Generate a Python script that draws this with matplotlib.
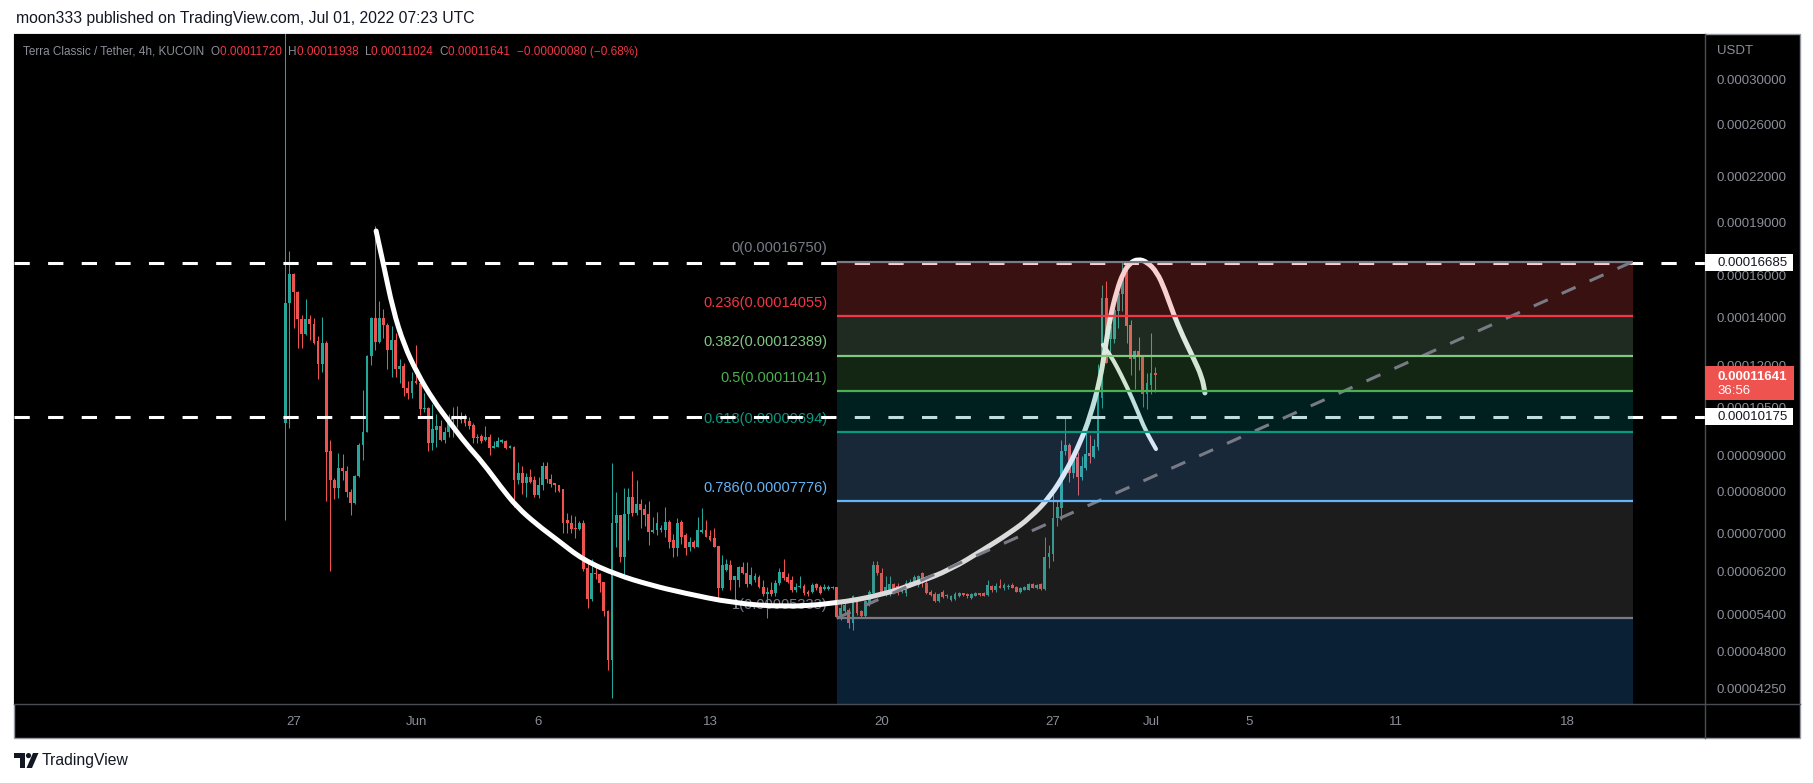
import numpy as np
import pandas as pd
import matplotlib
matplotlib.use('Agg')
import matplotlib.pyplot as plt
import matplotlib.dates as mdates
from matplotlib.patches import Rectangle, Polygon, Ellipse, PathPatch
from matplotlib.path import Path
from matplotlib.lines import Line2D
from matplotlib.ticker import NullLocator

plt.rcParams['font.family'] = ['Liberation Sans', 'DejaVu Sans']

# ---- data: LUNC/USDT 4h candles, prices in 1e-8 USDT ----
SCALE = 1e-8
first_bar = '2022-05-26 16:00'

opens = [
    9990, 14650, 16100, 15210, 13940, 13290, 13930, 13700, 12990, 12060,
    12910, 9130, 8310, 8110, 8640, 8560, 8000, 7720, 8430, 9300,
    9710, 12390, 13990, 12960, 13990, 13680, 12620, 13030, 11870, 11980,
    11180, 10970, 11420, 11340, 10430, 10470, 9350, 9760, 9890, 9450,
    9680, 10080, 10180, 10140, 10120, 10050, 9920, 9510, 9570, 9450,
    9550, 9220, 9230, 9400, 9430, 9220, 9250, 8300, 8510, 8230,
    8390, 8310, 7920, 8180, 8680, 8350, 8240, 8180, 8080, 7300,
    7250, 7120, 7100, 7240, 6260, 5680, 6170, 6150, 5990, 5460,
    4660, 7240, 7430, 6500, 7450, 7880, 7470, 7700, 7570, 7450,
    7040, 7070, 7080, 7090, 7270, 6860, 6680, 7270, 6970, 6700,
    6820, 6710, 7040, 7090, 6950, 6900, 6720, 5870, 6230, 6330,
    6030, 6030, 6290, 6170, 5950, 6030, 6090, 5900, 5760, 5840,
    5780, 5970, 6190, 6080, 6030, 5830, 5890, 5920, 5810, 5810,
    5950, 5900, 5850, 5860, 5870, 5890, 5390, 5450, 5480, 5250,
    5630, 5450, 5380, 5600, 5780, 6330, 6160, 5780, 5780, 5950,
    5920, 5810, 5780, 5900, 5950, 5930, 6160, 5980, 5810, 5760,
    5640, 5810, 5750, 5660, 5680, 5720, 5780, 5770, 5690, 5730,
    5780, 5780, 5750, 5920, 5830, 5920, 5870, 5890, 5940, 5900,
    5810, 5840, 5840, 5950, 5870, 5950, 5850, 6490, 6560, 7350,
    7600, 9130, 9300, 8490, 8960, 8400, 8630, 9060, 8960, 9250,
    10810, 14890, 13060, 13060, 14310, 15100, 16160, 13660, 12270, 12580,
    12370, 10960, 11280, 11720,
]
highs = [
    40000, 17330, 16150, 15250, 14110, 14850, 14110, 13990, 13190, 14020,
    12990, 9450, 8370, 9070, 9040, 8700, 8080, 8450, 9360, 11100,
    12410, 14020, 18780, 14760, 14380, 13770, 13620, 13320, 12250, 12100,
    11420, 11760, 12820, 11400, 11000, 10490, 10590, 10270, 10080, 9860,
    10270, 10520, 10540, 10340, 10270, 10180, 9970, 9640, 9640, 9890,
    9640, 9420, 9540, 9470, 9450, 9310, 9270, 8810, 8700, 8510,
    8610, 8420, 8390, 8810, 8810, 8480, 8240, 8180, 8080, 7480,
    7430, 7400, 7290, 7300, 6380, 6460, 6290, 6170, 6000, 5480,
    8790, 8000, 7430, 8090, 8090, 8560, 8310, 7820, 7700, 7760,
    7390, 7510, 7200, 7630, 7310, 6990, 7350, 7310, 7010, 6930,
    6860, 7370, 7590, 7300, 7080, 7120, 6720, 6530, 6460, 6420,
    6110, 6300, 6380, 6380, 6290, 6160, 6130, 6020, 5900, 6000,
    6030, 6260, 6450, 6160, 6100, 5970, 6100, 5950, 5840, 5970,
    5970, 5940, 5950, 5940, 5920, 5900, 5660, 5600, 5510, 5750,
    5660, 5480, 5660, 5840, 6400, 6400, 6260, 6100, 6100, 5980,
    5970, 5900, 6030, 6040, 6130, 6130, 6190, 6020, 5830, 5810,
    5780, 5840, 5770, 5750, 5800, 5810, 5790, 5780, 5780, 5810,
    5790, 5810, 6020, 5930, 5970, 6050, 5970, 5950, 5980, 5920,
    5900, 5910, 5980, 5970, 5950, 5970, 6930, 6750, 7970, 7800,
    9450, 10190, 9350, 9090, 9080, 8980, 9810, 9600, 9480, 12060,
    15540, 15740, 13890, 14810, 15790, 16750, 16480, 13890, 12620, 13160,
    12410, 11730, 13340, 11938,
]
lows = [
    7310, 9830, 13550, 12710, 12710, 13250, 13030, 12850, 11500, 11760,
    7780, 6210, 7820, 7850, 8310, 7880, 7430, 7700, 8380, 8870,
    9680, 12020, 12620, 12890, 13120, 11870, 11580, 11580, 11350, 10880,
    10780, 10810, 11310, 10250, 10340, 9130, 9160, 9250, 9420, 9350,
    9550, 9550, 9840, 9970, 9890, 9780, 9370, 9370, 9350, 9430,
    9010, 9220, 9230, 9350, 9170, 9220, 7630, 8210, 7950, 7880,
    8230, 7880, 7850, 8050, 8230, 8120, 8000, 8000, 7020, 7020,
    7020, 6900, 7070, 6210, 5510, 5630, 6040, 5810, 5380, 4510,
    4130, 6710, 6380, 6060, 6860, 7400, 7430, 7130, 7170, 6750,
    7010, 6970, 7040, 6930, 6680, 6500, 6510, 6770, 6530, 6610,
    6680, 6700, 7020, 6920, 6840, 6700, 5630, 5840, 6210, 5840,
    5510, 5900, 6150, 5900, 5930, 6000, 5870, 5730, 5340, 5720,
    5720, 5940, 6030, 5970, 5800, 5810, 5870, 5750, 5730, 5790,
    5840, 5770, 5840, 5840, 5850, 5333, 5310, 5420, 5170, 5130,
    5390, 5340, 5360, 5540, 5720, 6130, 5750, 5720, 5720, 5780,
    5750, 5780, 5720, 5890, 5930, 5900, 5900, 5770, 5730, 5620,
    5620, 5690, 5690, 5640, 5660, 5710, 5720, 5690, 5670, 5720,
    5730, 5720, 5730, 5810, 5810, 5870, 5840, 5860, 5870, 5800,
    5790, 5830, 5830, 5870, 5860, 5840, 5830, 6260, 6400, 7160,
    7310, 9010, 8270, 8370, 7920, 8310, 8590, 8770, 8910, 9150,
    10460, 12110, 12510, 12890, 13520, 14300, 12920, 11640, 11130, 11830,
    10520, 10440, 10960, 11024,
]
closes = [
    14650, 16100, 15210, 13940, 13290, 13930, 13700, 12890, 12060, 12910,
    9100, 8310, 8110, 8640, 8560, 8000, 7720, 8430, 9300, 9710,
    12390, 13990, 12960, 13990, 13680, 12620, 13030, 11870, 11980, 11180,
    10970, 11420, 11340, 10430, 10470, 9350, 9790, 9890, 9450, 9680,
    10100, 10160, 10140, 10080, 9990, 9890, 9510, 9550, 9430, 9550,
    9220, 9270, 9420, 9450, 9220, 9270, 8300, 8510, 8230, 8390,
    8260, 7920, 8180, 8680, 8350, 8210, 8170, 8030, 7250, 7250,
    7100, 7100, 7240, 6250, 5680, 6160, 6150, 5970, 5450, 4660,
    7240, 7430, 6500, 7450, 7880, 7470, 7700, 7550, 7430, 7040,
    7090, 7250, 7120, 7270, 6820, 6680, 7250, 6930, 6680, 6820,
    6710, 7080, 7090, 6930, 6860, 6710, 5870, 6330, 6340, 6030,
    6100, 6290, 6160, 5950, 6130, 6100, 5890, 5770, 5810, 5770,
    5970, 6190, 6060, 6000, 5830, 5900, 5920, 5790, 5770, 5940,
    5870, 5790, 5900, 5900, 5900, 5360, 5510, 5560, 5250, 5720,
    5420, 5380, 5630, 5810, 6330, 6160, 5810, 5900, 5950, 5810,
    5790, 5870, 5980, 6000, 6080, 6110, 5970, 5790, 5750, 5640,
    5770, 5710, 5720, 5730, 5770, 5790, 5740, 5720, 5760, 5790,
    5750, 5730, 5930, 5830, 5920, 5880, 5940, 5920, 5880, 5810,
    5870, 5890, 5950, 5880, 5940, 5850, 6500, 6580, 7360, 7630,
    9130, 9300, 8490, 8960, 8400, 8680, 9040, 8980, 9270, 10860,
    14890, 12110, 13620, 14340, 15130, 16140, 13620, 12270, 12580, 12350,
    10960, 11360, 11730, 11641,
]

tick_dates = ['2022-05-27', '2022-06-01', '2022-06-06', '2022-06-13', '2022-06-20',
              '2022-06-27', '2022-07-01', '2022-07-05', '2022-07-11', '2022-07-18']
tick_labels = ['27', 'Jun', '6', '13', '20', '27', 'Jul', '5', '11', '18']
price_ticks = [30000, 26000, 22000, 19000, 16000, 14000, 12000, 10500,
               9000, 8000, 7000, 6200, 5400, 4800, 4250]

# fib retracement drawn from the Jun 18 low to the Jun 29 high
fib_start = '2022-06-18 04:00'
fib_end = '2022-07-20 16:00'
fib_levels = ['0', '0.236', '0.382', '0.5', '0.618', '0.786', '1']
fib_prices = [16750, 14055, 12389, 11041, 9694, 7776, 5333]
fib_line_colors = ['#787b86', '#f23645', '#81c784', '#4caf50', '#089981', '#64b5f6', '#787b86']
fib_fill_colors = ['#e84444', '#7cac80', '#4c984c', '#007c7c', '#60a0e0', '#707070', '#2880d4']

dashed_levels = [16685, 10175]
last_price = 11641
countdown = '36:56'

# hand drawn curves (days after Jun 1, price)
cup_days = [-1.63, -1.35, -0.94, -0.49, 0.04, 0.69, 1.39, 2.04, 2.73, 3.43,
            4.12, 4.94, 5.76, 6.82, 8.20, 9.55, 10.90, 12.94, 14.98, 17.02,
            19.06, 20.45, 21.80, 23.14, 24.24, 25.06, 25.88, 26.57, 27.10, 27.51,
            27.92, 28.12, 28.33, 28.61, 28.86, 29.14, 29.47, 29.84, 30.24, 30.57,
            30.90, 31.31, 31.71, 32.08, 32.20]
cup_prices = [18480, 16730, 14340, 12820, 11720, 10750, 9980, 9330, 8780, 8150,
              7620, 7200, 6860, 6430, 6130, 5935, 5785, 5600, 5530, 5585,
              5750, 5975, 6230, 6640, 7015, 7360, 7870, 8585, 9360, 10175,
              11460, 12620, 14020, 15290, 16150, 16680, 16890, 16730, 16200, 15290,
              14200, 13150, 12330, 11570, 10990]
branch_days = [28.04, 28.33, 28.61, 29.02, 29.43, 29.76, 30.20]
branch_prices = [12820, 12415, 11945, 11203, 10408, 9761, 9181]

header_ohlc = [('O', 11720), ('H', 11938), ('L', 11024), ('C', 11641)]
header_change = '\u22120.00000080 (\u22120.68%)'

# ---- figure ----
W, H = 1813, 783
fig = plt.figure(figsize=(W / 100, H / 100), dpi=100)
fig.patch.set_facecolor('white')


def fx(px):
    return px / W


def fy(py):
    return 1 - py / H


# dark chart panel
fig.add_artist(Rectangle((fx(14), fy(738)), fx(1800) - fx(14), fy(34) - fy(738),
                         transform=fig.transFigure, facecolor='black',
                         edgecolor='#9598a1', lw=1, zorder=-1))

ax = fig.add_axes([fx(14), fy(704), fx(1705) - fx(14), fy(34) - fy(704)])
ax.set_facecolor('black')
for s in ax.spines.values():
    s.set_visible(False)

# candles
t = mdates.date2num(pd.date_range(first_bar, periods=len(opens), freq='4h'))
o = np.array(opens) * SCALE
c = np.array(closes) * SCALE
h = np.maximum(np.array(highs) * SCALE, np.maximum(o, c))
l = np.minimum(np.array(lows) * SCALE, np.minimum(o, c))
cols = np.where(c >= o, '#26a69a', '#ef5350')
ax.vlines(t, l, h, colors=cols, lw=0.75, zorder=2)
ax.bar(t, np.abs(c - o), bottom=np.minimum(o, c), width=4 / 24 * 0.7,
       color=cols, lw=0, zorder=2.1)

# scales
ax.set_yscale('log')
ax.set_ylim(4.050e-5, 3.4772e-4)
ax.yaxis.set_minor_locator(NullLocator())
ax.set_yticks([p * SCALE for p in price_ticks])
ax.set_yticklabels([f'{p * SCALE:.8f}' for p in price_ticks])
ax.yaxis.tick_right()
ax.tick_params(axis='y', length=0, pad=8.6, labelsize=9.5, labelcolor='#8c8f99')

jun1 = mdates.date2num(pd.Timestamp('2022-06-01'))
ax.set_xlim(jun1 - 16.41, jun1 + 52.61)
ax.set_xticks(mdates.date2num(pd.to_datetime(tick_dates)))
ax.set_xticklabels(tick_labels)
ax.tick_params(axis='x', length=0, pad=8.3, labelsize=9.5, labelcolor='#8c8f99')

# scale separators
fig.add_artist(Line2D([fx(1705), fx(1705)], [fy(34), fy(738)], transform=fig.transFigure,
                      color='#4a4d56', lw=1, zorder=1))
fig.add_artist(Line2D([fx(14), fx(1800)], [fy(704), fy(704)], transform=fig.transFigure,
                      color='#4a4d56', lw=1, zorder=1))

# fib retracement
t0 = mdates.date2num(pd.Timestamp(fib_start))
t1 = mdates.date2num(pd.Timestamp(fib_end))
fp = np.array(fib_prices) * SCALE
bounds = list(fp) + [ax.get_ylim()[0]]
for k in range(len(fp)):
    ax.fill_between([t0, t1], bounds[k + 1], bounds[k], color=fib_fill_colors[k],
                    alpha=0.25, lw=0, zorder=4)
ax.hlines(fp, t0, t1, colors=fib_line_colors, lw=1.6, zorder=5)
ax.plot([t0, t1], [fp[-1], fp[0]], color='#787b86', lw=2.2, ls=(0, (5, 5)), zorder=4.5)
for lvl, p, col in zip(fib_levels, fp, fib_line_colors):
    ax.annotate(f'{lvl}({p:.8f})', xy=(t0, p), xytext=(-6.5, 9.5), textcoords='offset points',
                ha='right', va='center', color=col, fontsize=10.5, zorder=3)

# horizontal dashed levels
for v in dashed_levels:
    ax.axhline(v * SCALE, color='white', lw=2.2, ls=(0, (5, 6)), zorder=3.5)


def smooth_stroke(days, prices, lw):
    # quadratic bezier through the midpoints of the drawn anchor points
    x = jun1 + np.array(days)
    y = np.array(prices) * SCALE
    verts = [(x[0], y[0])]
    codes = [Path.MOVETO]
    for i in range(1, len(x) - 1):
        verts += [(x[i], y[i]), ((x[i] + x[i + 1]) / 2, np.sqrt(y[i] * y[i + 1]))]
        codes += [Path.CURVE3, Path.CURVE3]
    verts.append((x[-1], y[-1]))
    codes.append(Path.LINETO)
    ax.add_patch(PathPatch(Path(verts, codes), facecolor='none', edgecolor='white', lw=lw,
                           capstyle='round', joinstyle='round', zorder=3.6))


smooth_stroke(cup_days, cup_prices, 3.6)
smooth_stroke(branch_days, branch_prices, 3.0)


def ypix(v):
    return ax.transData.transform((jun1, v))[1]


# price scale tags
for v in dashed_levels:
    y = ypix(v * SCALE)
    fig.add_artist(Rectangle((fx(1705), (y - 8.5) / H), 88 / W, 17 / H, transform=fig.transFigure,
                             facecolor='white', edgecolor='none', zorder=2))
    fig.text(fx(1717), y / H, f'{v * SCALE:.8f}', va='center', ha='left',
             color='#131722', fontsize=9.5, zorder=3)

y = ypix(last_price * SCALE)
fig.add_artist(Rectangle((fx(1705), (y - 25) / H), 89 / W, 34 / H, transform=fig.transFigure,
                         facecolor='#ef5350', edgecolor='none', zorder=2))
fig.text(fx(1717), (y - 1.7) / H, f'{last_price * SCALE:.8f}', va='center', ha='left',
         color='white', fontsize=9.5, fontweight='bold', zorder=3)
fig.text(fx(1717), (y - 15.7) / H, countdown, va='center', ha='left',
         color='white', fontsize=9.5, zorder=3)

fig.text(fx(1717), fy(50.7), 'USDT', va='center', ha='left', color='#8c8f99', fontsize=9.5)

# header lines
fig.text(fx(16), fy(18.5), 'moon333 published on TradingView.com, Jul 01, 2022 07:23 UTC',
         va='center', ha='left', fontsize=11.3, color='#131722')

gray, red = '#8c8f99', '#f23645'
pieces = [('Terra Classic / Tether, 4h, KUCOIN  ', gray)]
for lab, val in header_ohlc:
    pieces.append((lab, gray))
    pieces.append((f'{val * SCALE:.8f}  ', red))
pieces.append((header_change, red))
prev = fig.text(fx(23), fy(52), pieces[0][0], va='center', ha='left', color=gray,
                fontsize=8.5, zorder=6)
for txt, col in pieces[1:]:
    prev = ax.annotate(txt, xy=(1, 0), xycoords=prev, va='bottom', ha='left', color=col,
                       fontsize=8.5, annotation_clip=False, zorder=6)

# footer logo
fig.add_artist(Polygon([(fx(14), fy(753)), (fx(25), fy(753)), (fx(25), fy(768)),
                        (fx(19.5), fy(768)), (fx(19.5), fy(758)), (fx(14), fy(758))],
                       closed=True, transform=fig.transFigure, facecolor='#131722', lw=0))
fig.add_artist(Ellipse((fx(28.5), fy(755.6)), 5.2 / W, 5.2 / H, transform=fig.transFigure,
                       facecolor='#131722', lw=0))
fig.add_artist(Polygon([(fx(33), fy(753)), (fx(38.5), fy(753)), (fx(32), fy(768)),
                        (fx(26.5), fy(768))], closed=True, transform=fig.transFigure,
                       facecolor='#131722', lw=0))
fig.text(fx(42), fy(761), 'TradingView', va='center', ha='left', fontsize=11.3, color='#131722')

fig.savefig('out.png', dpi=100, facecolor='white')
